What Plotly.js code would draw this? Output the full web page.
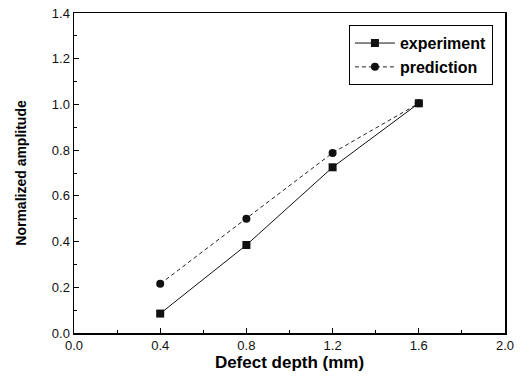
<!DOCTYPE html>
<html>
<head>
<meta charset="utf-8">
<script src="https://cdn.plot.ly/plotly-3.0.1.min.js"></script>
<style>
  html, body { margin: 0; padding: 0; background: #fff; }
  #chart { width: 531px; height: 377px; }
</style>
</head>
<body>
<div id="chart"></div>
<script>
// Defect depth (mm) and normalized signal amplitude
const depth = [0.4, 0.8, 1.2, 1.6];
const experiment = [0.085, 0.385, 0.725, 1.005];
const prediction = [0.215, 0.50, 0.788, 1.005];

const xTicks = [0.0, 0.4, 0.8, 1.2, 1.6, 2.0];
const yTicks = [0.0, 0.2, 0.4, 0.6, 0.8, 1.0, 1.2, 1.4];

const font = 'Arial, "Liberation Sans", sans-serif';

const traces = [
  {
    x: depth, y: experiment, name: '<b>experiment</b>',
    mode: 'lines+markers', type: 'scatter',
    line: { color: '#111', width: 1 },
    marker: { symbol: 'square', size: 8, color: '#111' }
  },
  {
    x: depth, y: prediction, name: '<b>prediction</b>',
    mode: 'lines+markers', type: 'scatter',
    line: { color: '#222', width: 1, dash: '4px,3px' },
    marker: { symbol: 'circle', size: 8, color: '#111' }
  }
];

const axisCommon = {
  showgrid: false, zeroline: false,
  showline: true, linecolor: '#000', linewidth: 1.5, mirror: true,
  ticks: 'inside', ticklen: 5, tickwidth: 1, tickcolor: '#000',
  tickfont: { family: font, size: 13, color: '#111' }
};

const layout = {
  width: 531, height: 377,
  margin: { l: 74, r: 26, t: 13, b: 44 },
  paper_bgcolor: '#fff', plot_bgcolor: '#fff',
  showlegend: true,
  legend: {
    x: 0.972, xanchor: 'right', y: 0.962, yanchor: 'top',
    bgcolor: '#fff', bordercolor: '#000', borderwidth: 1,
    font: { family: font, size: 16, color: '#000' },
    tracegroupgap: 0, itemwidth: 40
  },
  xaxis: Object.assign({}, axisCommon, {
    range: [0, 2.0], tickvals: xTicks, ticktext: xTicks.map(v => v.toFixed(1)),
    minor: { dtick: 0.2, tick0: 0, ticks: 'inside', ticklen: 3, tickcolor: '#000' },
    title: { text: '<b>Defect depth (mm)</b>', font: { family: font, size: 17, color: '#000' }, standoff: 4 }
  }),
  yaxis: Object.assign({}, axisCommon, {
    range: [0, 1.4], tickvals: yTicks, ticktext: yTicks.map(v => v.toFixed(1)),
    minor: { dtick: 0.1, tick0: 0, ticks: 'inside', ticklen: 3, tickcolor: '#000' },
    title: { text: '<b>Normalized amplitude</b>', font: { family: font, size: 14, color: '#000' }, standoff: 22 }
  })
};

Plotly.newPlot('chart', traces, layout, { displayModeBar: false, staticPlot: true });
</script>
</body>
</html>
